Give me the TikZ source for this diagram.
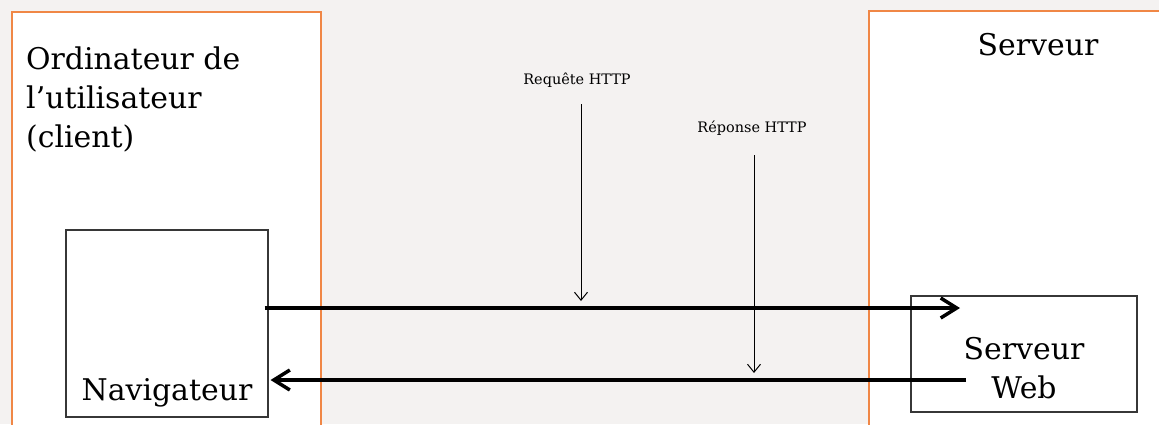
\documentclass[tikz,border=0pt]{standalone}
\usepackage{fontspec}
\setmainfont{DejaVu Serif}
\usetikzlibrary{arrows.meta, positioning}
\definecolor{panelorange}{RGB}{240,135,70}
\definecolor{slidegray}{RGB}{244,242,241}
\definecolor{boxgray}{RGB}{55,55,55}

\begin{document}
\begin{tikzpicture}[x=1bp, y=-1bp,
  panel/.style={draw=panelorange, line width=1.2bp, fill=white},
  appbox/.style={draw=boxgray, line width=1.1bp, fill=white, inner sep=0pt},
  bigtext/.style={font=\fontsize{30}{39}\selectfont},
  smalltext/.style={font=\fontsize{14.5}{16}\selectfont},
  flow/.style={-{Straight Barb[length=16bp,width=20bp]}, line width=3.5bp},
  tag/.style={-{Straight Barb[length=8bp,width=13bp]}, line width=1bp}]
  \useasboundingbox[fill=slidegray] (0,0) rectangle (1159,424);
  \draw[panel] (12,12) rectangle (321,426);
  \draw[panel] (869,11) rectangle (1162,426);

  \node[bigtext, anchor=north west, align=left, inner sep=0pt] (client) at (26,47)
    {Ordinateur de\\l’utilisateur\\(client)};
  \node[bigtext] (server) at (1038,45) {Serveur};

  \node[appbox, minimum width=202bp, minimum height=187bp] (nav) at (167,323.5) {};
  \node[bigtext, above=7bp of nav.south] (navtxt) {Navigateur};
  \node[appbox, minimum width=226bp, minimum height=116bp] (web) at (1024,354) {};
  \node[bigtext, align=center] (webtxt) at (1024,368) {Serveur\\Web};

  \node[smalltext] (req) at (577,80) {Requête HTTP};
  \node[smalltext] (res) at (752,128) {Réponse HTTP};
  \coordinate (reqtop) at (581,104);
  \coordinate (reqtip) at (581,301);
  \coordinate (restop) at (754,155);
  \coordinate (restip) at (754,373);
  \draw[tag] (reqtop) -- (reqtip);
  \draw[tag] (restop) -- (restip);

  \coordinate (reqhead) at (960,308);
  \coordinate (resstart) at (966,380);
  \draw[flow] ([xshift=-4bp]nav.east |- reqhead) -- (reqhead);
  \draw[flow] (resstart) -- ([xshift=2bp]nav.east |- resstart);
\end{tikzpicture}
\end{document}
